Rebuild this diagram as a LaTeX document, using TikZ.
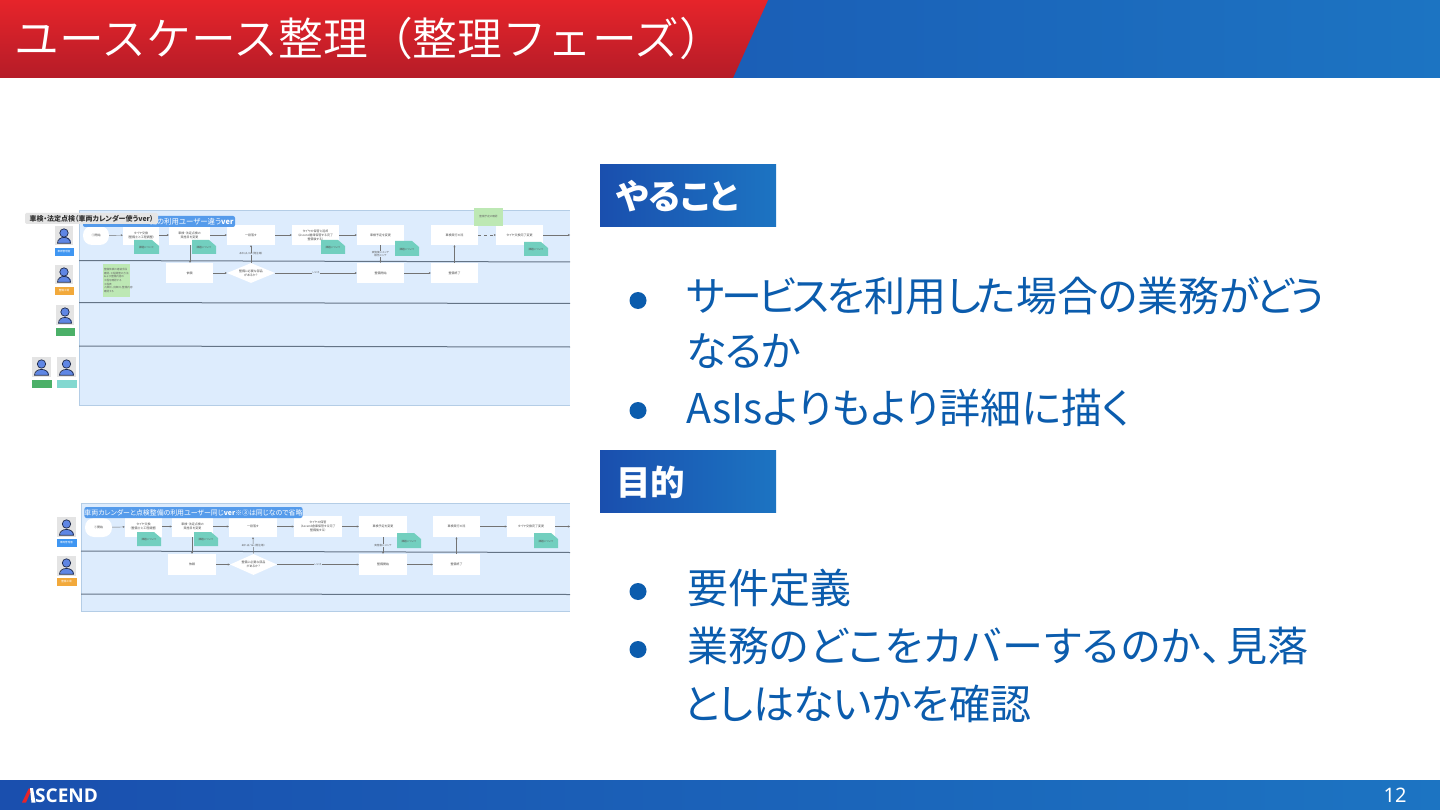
\documentclass[tikz,border=0pt]{standalone}
\usepackage{fontspec}
\usetikzlibrary{arrows.meta,shapes.geometric,shadings}
\setmainfont{Noto Sans CJK JP}[RawFeature=+palt]
\newfontfamily\jpfull{Noto Sans CJK JP}
\newfontfamily\jplight{Noto Sans CJK JP DemiLight}
\newfontfamily\logof{Open Sans}
\newfontfamily\latinf{Noto Sans}
\newcommand\ks[2]{{\addfontfeature{LetterSpace=#1}#2}}
\definecolor{bodyblue}{HTML}{0B5CAD}
\definecolor{gradA}{HTML}{1A4FAE}
\definecolor{gradB}{HTML}{1C74C2}
\definecolor{redA}{HTML}{E6242A}
\definecolor{redB}{HTML}{B51C28}
\definecolor{panelblue}{HTML}{DDECFD}
\definecolor{panelline}{HTML}{B4CDE6}
\definecolor{laneline}{HTML}{647486}
\definecolor{teal1}{HTML}{72CFBF}
\definecolor{green1}{HTML}{BDE8B4}
\definecolor{tagblue}{HTML}{3F96F2}
\definecolor{tagorange}{HTML}{F2A93B}
\definecolor{taggreen}{HTML}{4BB068}
\definecolor{tagteal}{HTML}{82D8D0}
\definecolor{headblue}{HTML}{559BEB}
\definecolor{avatarbg}{HTML}{E4E4E4}
\definecolor{avatarblue}{HTML}{5F86E4}
\definecolor{avatarline}{HTML}{1E2A4A}
\tikzset{
  x=1pt,y=-1pt,
  tbox/.style={fill=white,inner sep=0pt,align=center,font=\fontsize{3}{4}\selectfont,text=black!70},
  tdia/.style={diamond,aspect=2.4,fill=white,inner sep=0pt,align=center,font=\fontsize{3}{4}\selectfont,text=black!70},
  tstart/.style={fill=white,rounded corners=9pt,inner sep=0pt,font=\fontsize{3}{4}\selectfont,text=black!70},
  flow/.style={draw=black!55,line width=.45pt,-{Stealth[length=2pt,width=2pt]}},
  lane/.style={draw=laneline,line width=1pt},
  tinyl/.style={inner sep=0pt,font=\fontsize{2.6}{3}\selectfont,text=black!65,align=center},
  tagtext/.style={inner sep=0pt,font=\fontsize{2.6}{3}\selectfont,text=white},
  headlabel/.style={fill=headblue,rounded corners=2pt,text=white,inner sep=0pt,font=\fontsize{7.4}{9}\selectfont},
  section/.style={left color=gradA,right color=gradB,inner sep=0pt,text=white,anchor=north west,minimum width=176pt,minimum height=62.5pt},
  secttext/.style={anchor=base west,inner sep=0pt,text=white,font=\bfseries\fontsize{34.5}{40}\selectfont},
  bodyt/.style={anchor=base west,inner sep=0pt,text=bodyblue,font=\fontsize{41}{48}\selectfont},
  bull/.style={fill=bodyblue,circle,inner sep=0pt,minimum size=17pt}
}
\newcommand\bx[6]{\node[tbox,minimum width={(#4-#2)*1pt},minimum height={(#5-#3)*1pt}] (#1) at ({(#2+#4)/2},{(#3+#5)/2}) {#6};}
\newcommand\dia[6]{\node[tdia,minimum width={(#4-#2)*1pt},minimum height={(#5-#3)*1pt}] (#1) at ({(#2+#4)/2},{(#3+#5)/2}) {#6};}
\newcommand\tnote[4]{\fill[teal1] (#1,#2) -- ({#3-7},#2) -- (#3,{#2+6}) -- (#3,#4) -- (#1,#4) -- cycle;
  \node[tinyl] at ({(#1+#3)/2},{(#2+#4)/2+1}) {課題について};}
\newcommand\actor[7]{% x1 y1 x2 y2 tag colour, tag y, tag text
  \fill[avatarbg] (#1,#2) rectangle (#3,#4);
  \fill[avatarblue,draw=avatarline,line width=.7pt] ({#1+2.5},{#4-1.8}) .. controls ({#1+2.5},{#4-9.5}) and ({#3-2.5},{#4-9.5}) .. ({#3-2.5},{#4-1.8}) -- cycle;
  \fill[avatarblue,draw=avatarline,line width=.7pt] ({(#1+#3)/2},{#2+7}) circle[radius=4.2];
  \fill[#5] ({#1-.5},#6) rectangle ({#3+.5},{#6+8});
  \node[tagtext] at ({(#1+#3)/2},{#6+4}) {#7};}
\begin{document}
\begin{tikzpicture}
\useasboundingbox (0,0) rectangle (1440,810);
\fill[white] (0,0) rectangle (1440,810);
% top banner
\shade[left color=gradA!60!gradB,right color=gradB] (700,0) rectangle (1440,78);
\shade[top color=redA,bottom color=redB] (0,0) -- (768,0) -- (733,78) -- (0,78) -- cycle;
\node[anchor=base west,inner sep=0pt,text=white,font=\jplight\fontsize{44.8}{52}\selectfont] (title) at (14,56) {ユースケース整理（整理フェーズ）};
% footer
\shade[left color=gradA,right color=gradB] (0,780) rectangle (1440,810);
\fill[redA] (22,802.5) -- (29,788) -- (31,791) -- (26,802.5) -- cycle;
\fill[white] (30,788) -- (33,788) -- (35.5,802.5) -- (31.5,802.5) -- cycle;
\node[anchor=base west,inner sep=0pt,text=white,font=\logof\bfseries\fontsize{19}{24}\selectfont] (logo) at (35,802.5) {SCEND};
\node[anchor=base,inner sep=0pt,text=white,font=\latinf\fontsize{20}{24}\selectfont] (page) at (1395,802) {12};

% thumbnail 1
\fill[panelblue] (79,210) rectangle (570,405);
\draw[panelline,line width=.4pt] (79,405) -- (79,210) -- (570,210) (79,405) -- (570,405);
\draw[lane] (79,260.5) -- (570,262);
\draw[lane] (79,302.5) -- (570,303.5);
\draw[lane] (79,346) -- (570,347);
\actor{55}{226}{73}{245}{tagblue}{248}{車両管理者}
\actor{55}{265}{73}{284}{tagorange}{287}{整備工場}
\actor{56}{305}{74}{325}{taggreen}{327.5}{}
\actor{32}{357}{51}{377}{taggreen}{380}{}
\actor{57}{357}{76}{377}{tagteal}{380}{}
\node[fill=green1,minimum width=27pt,minimum height=33pt,inner sep=1pt,text width=25pt,font=\fontsize{2.6}{3.6}\selectfont,text=black!60,align=left] (gn1) at (116.5,280.5) {整備依頼の連絡手段\\確認、工程調整の方法\\および整備内容の\\工程を確認する\\工程表\\入庫日、出庫日、整備内容\\確認する};
\node[tstart,minimum width=26pt,minimum height=19pt] (a0) at (96,235.5) {①開始};
\bx{a1}{123}{225}{159}{245}{タイヤ交換\\（整備士と工程調整）}
\bx{a2}{169}{225}{210}{245}{車検・法定点検の\\実施日を変更}
\bx{a3}{227}{225}{275}{245}{一段落す}
\bx{a4}{292}{225}{339}{245}{タイヤの保管と返却\\（Ascend倉庫保管する完了\\整備後する）}
\bx{a5}{357}{225}{404}{245}{車検予定を変更}
\bx{a6}{431}{225}{478}{245}{車検実行の流}
\bx{a7}{496}{225}{543}{245}{タイヤ交換完了変更}
\bx{b1}{166}{263}{213}{283}{依頼}
\dia{b2}{227}{263}{275}{283}{整備に必要な部品\\があるか？}
\bx{b3}{357}{263}{404}{283}{整備開始}
\bx{b4}{431}{263}{478}{283}{整備終了}
\coordinate (aend) at (570,235);
\draw[flow] (a0) -- (a1);
\draw[flow] (a1) -- (a2);
\draw[flow] (a2) -- (a3);
\draw[flow] (a3) -- (a4);
\draw[flow] (a4) -- (a5);
\draw[flow,dashed] (a6) -- (a7);
\draw[flow] (a7) -- (aend);
\draw[flow] (b1) -- (b2);
\draw[flow] (b2) -- node[tinyl,fill=panelblue,inner xsep=.5pt]{いいえ} (b3);
\draw[flow] (b3) -- (b4);
\draw[flow] (a2.south -| 190,0) -- (b1.north -| 190,0);
\draw[flow] (b2.north) -- node[tinyl,fill=panelblue]{あれば、Yes（発注等）} (a3.south);
\draw[flow] (a5) -- node[tinyl,fill=panelblue]{実施後にメンテ\\報告メンテ} (b3);
\draw[flow] (b4) -- (a6);
\tnote{134}{240}{159}{254}
\tnote{192}{240}{216}{254}
\tnote{321}{240}{345}{254}
\tnote{395}{241}{419}{256}
\tnote{524}{242}{548}{256}
\node[fill=green1,minimum width=29pt,minimum height=18pt,inner sep=0pt,font=\fontsize{2.6}{3.6}\selectfont,text=black!60] (gn2) at (488.5,217) {整備予定の確認};
\node[headlabel,minimum width=152pt,minimum height=11pt,text width=149pt,align=right] (ah) at (159,221.5) {備の利用ユーザー違う\textbf{ver}};
\node[fill=black!10,rounded corners=1.5pt,inner sep=0pt,minimum width=133pt,minimum height=11pt,font=\fontsize{7}{9}\selectfont,text=black!80] (at) at (91.5,218.5) {\textbf{車検・法定点検（車両カレンダー使うver）}};

% thumbnail 2
\fill[panelblue] (81,503) rectangle (570,611);
\draw[panelline,line width=.4pt] (81,611) -- (81,503) -- (570,503) (81,611) -- (570,611);
\draw[lane] (81,551) -- (570,552.5);
\draw[lane] (81,594) -- (570,594.5);
\actor{57}{517}{76}{537}{tagblue}{539}{車両管理者}
\actor{57}{556}{76}{576}{tagorange}{578}{整備工場}
\node[tstart,minimum width=27pt,minimum height=19pt] (c0) at (98.5,527.5) {①開始};
\bx{c1}{125}{516}{162}{537}{タイヤ交換\\（整備士と工程調整）}
\bx{c2}{172}{516}{213}{537}{車検・法定点検の\\実施日を変更}
\bx{c3}{229}{516}{277}{537}{一段落す}
\bx{c4}{294}{516}{342}{537}{タイヤの保管\\（Ascend倉庫保管する完了\\整備後する）}
\bx{c5}{359}{516}{407}{537}{車検予定を変更}
\bx{c6}{433}{516}{480}{537}{車検実行の流}
\bx{c7}{507}{516}{555}{537}{タイヤ交換完了変更}
\bx{d1}{168}{554}{216}{575}{依頼}
\dia{d2}{230}{554}{277}{575}{整備に必要な部品\\があるか？}
\bx{d3}{359}{554}{407}{575}{整備開始}
\bx{d4}{433}{554}{480}{575}{整備終了}
\coordinate (cend) at (570,526.5);
\draw[flow] (c0) -- (c1);
\draw[flow] (c1) -- (c2);
\draw[flow] (c2) -- (c3);
\draw[flow] (c3) -- (c4);
\draw[flow] (c4) -- (c5);
\draw[flow] (c6) -- (c7);
\draw[flow] (c7) -- (cend);
\draw[flow] (d1) -- (d2);
\draw[flow] (d2) -- node[tinyl,fill=panelblue,inner xsep=.5pt]{いいえ} (d3);
\draw[flow] (d3) -- (d4);
\draw[flow] (c2.south -| 192,0) -- (d1.north -| 192,0);
\draw[flow] (d2.north) -- node[tinyl,fill=panelblue]{あれば、Yes（発注等）} (c3.south);
\draw[flow] (c5) -- node[tinyl,fill=panelblue]{実施後にメンテ} (d3);
\draw[flow] (d4) -- (c6);
\tnote{137}{532}{161}{546}
\tnote{194}{532}{218}{546}
\tnote{397}{533}{421}{548}
\tnote{534}{533}{558}{548}
\node[headlabel,minimum width=217pt,minimum height=11pt,font=\fontsize{6.9}{9}\selectfont] (ch) at (193.5,512.5) {車両カレンダーと点検整備の利用ユーザー同じ\textbf{ver}※③は同じなので省略};

% right text
\node[section] (s1) at (600,164) {};
\node[secttext] at (616,209.5) {やること};
\node[section] (s2) at (600,450) {};
\node[secttext] at (616,495) {目的};
\node[bull] at (638,300.5) {};
\node[bodyt] at (686,312) {\ks{-8}{サービスを}利用\ks{-10}{した}場合\ks{-5}{の}業務\ks{-9}{がどう}};
\node[bodyt] at (686,366) {\ks{-2}{なるか}};
\node[bull] at (638,410.5) {};
\node[bodyt] at (686,423) {AsIsよりもより詳細に描く};
\node[bull] at (638,591.5) {};
\node[bodyt] at (687,603) {要件定義};
\node[bull] at (638,649.5) {};
\node[bodyt] at (687,661) {業務\ks{3}{のどこをカバーするのか、}\hspace{4pt}見落};
\node[bodyt] at (683,719) {\ks{-1}{としはないかを}確認};
\end{tikzpicture}
\end{document}
